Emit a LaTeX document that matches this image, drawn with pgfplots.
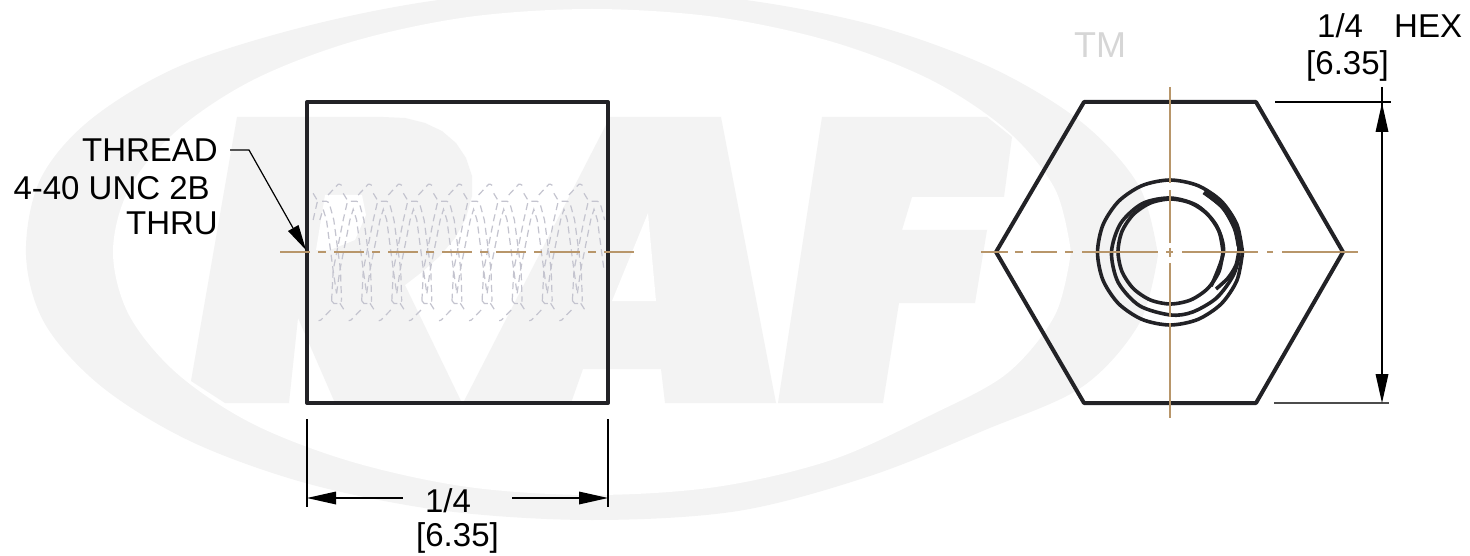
\documentclass[border=0pt]{standalone}
\usepackage{pgfplots}
\usepackage{pgfplotstable}
\usepackage{fontspec}
\setmainfont{Liberation Sans}
\pgfplotsset{compat=1.18}
\definecolor{wm}{HTML}{F3F3F3}
\definecolor{part}{HTML}{222226}
\definecolor{cline}{HTML}{B8966A}
\definecolor{hidden}{HTML}{C4C4CF}
\definecolor{tmgrey}{HTML}{D6D6D6}
\tikzset{lab/.style={font=\fontsize{33}{33}\selectfont, inner sep=0pt, text=black}}

% one turn of the thread, repeated along the bore
\pgfplotstableread{
x y
361.7 300.7
363.3 270
373.3 220
377.3 202.7
380 201.3
386.7 201.3
389.3 202.7
394 220
400.7 270
401.7 300.7
nan nan
361.7 300.7
364 303.5
369 303.5
371.7 300.7
nan nan
366.7 293.3
370 270
380 220
383.3 209.3
386.7 220
393.3 270
396.7 293.3
nan nan
373.3 193.3
378.7 202.3
nan nan
370 303.3
376 312.7
nan nan
388.3 195
398.3 184.3
400 184.3
403 186
nan nan
360.7 310
351 320
348.7 320.7
}\threadturn

\begin{document}
\begin{tikzpicture}
\path[use as bounding box] (0,0) rectangle (1470pt,556pt);
\begin{axis}[
	width=1470pt, height=556pt, scale only axis,
	xmin=0, xmax=1470, ymin=0, ymax=556,
	y dir=reverse,
	hide axis,
	unbounded coords=jump,
	cl/.style={draw=cline, line width=1.1pt},
	body/.style={part, line width=4pt, line join=round},
	bore/.style={part, line width=3.6pt, smooth},
	dim/.style={black, line width=1.2pt},
	head/.style={fill=black, draw=none},
]

% watermark logo
\addplot[fill=wm, draw=none, smooth, tension=0.55] coordinates {
	(1158,255)(1139,324)(1082,387)(985,430)(870,476)(738,511)(592,520)(446,511)(309,484)(192,442)
	(102,387)(45,324)(26,255)(40,180)(90,120)(180,66)(309,25.5)(446,-1)(592,-10)(738,-1)(875,25.5)
	(992,68)(1082,122.5)(1139,186)(1158,255)};
\addplot[fill=white, draw=none, smooth, tension=0.55] coordinates {
	(1071,252)(1055,315)(1007,373.5)(931,415)(831.5,460)(716,487)(592,495)(468,487)(352.5,462)(253,424)
	(177,373.5)(129,315)(113,252)(129,189)(177,130.5)(253,80)(352.5,41.6)(468,17)(592,9)(716,17)
	(831.5,41.6)(931,80)(1007,130.5)(1055,189)(1071,252)};
% R
\addplot[fill=wm, draw=none] coordinates {
	(237,117)(383,117)(405,118)(425,123)(442,131)(456,143)(466,158)(472,176)(472,196)(466,218)(455,238)
	(440,256)(422,272)(405,285)(462,403)
	(335,403)(298,318)(289,403)(225,403)(191,381)(237,117)};
\addplot[fill=white, draw=none] coordinates {
	(325,195)(362,195)(366,215)(355,240)(330,250)(316,250)(325,195)};
% A
\addplot[fill=wm, draw=none] coordinates {
	(610,117)(721,117)(776,403)(665,403)(661,369)(583,369)(571,403)(463,403)(610,117)};
\addplot[fill=white, draw=none] coordinates {(648,213)(612,301)(656,301)(648,213)};
% F
\addplot[fill=wm, draw=none] coordinates {
	(822,117)(987,117)(1012,137)(1004,197)(912,197)(902,230)(987,230)(975,303)(899,303)(883,403)(778,403)(822,117)};

% thread, hidden lines
\pgfplotsinvokeforeach{-2,...,7}{
	\addplot[hidden, line width=1.2pt, dash pattern=on 7pt off 4.5pt,
		restrict x to domain=310:605]
		table[x expr=\thisrow{x}+#1*30.1, y=y] {\threadturn};
}

% side view
\addplot[body] coordinates {(307,102)(608,102)(608,403)(307,403)(307,102)(608,102)};
\addplot[cl, dash pattern=on 30pt off 8pt on 8pt off 8pt] coordinates {(280,252)(634,252)};

% end view
\addplot[body] coordinates {(1084,102)(1256,102)(1343,252)(1256,403)(1084,403)(996,252)(1084,102)(1256,102)};
\addplot[bore] coordinates {
	(1242.5,252.5)(1237,280.2)(1221.3,303.8)(1197.7,319.5)(1170,325)(1142.3,319.5)(1118.7,303.8)(1103,280.2)
	(1097.5,252.5)(1103,224.8)(1118.7,201.2)(1142.3,185.5)(1170,180)(1197.7,185.5)(1221.3,201.2)(1237,224.8)(1242.5,252.5)};
\addplot[bore] coordinates {
	(1223,251.5)(1219,271.6)(1207.6,288.6)(1190.6,300)(1170.5,304)(1150.4,300)(1133.4,288.6)(1122,271.6)
	(1118,251.5)(1122,231.4)(1133.4,214.4)(1150.4,203)(1170.5,199)(1190.6,203)(1207.6,214.4)(1219,231.4)(1223,251.5)};
\addplot[bore] coordinates {
	(1204.8,192.7)(1223,208)(1234.9,228.6)(1239,252)(1233.5,274.9)(1216.5,298)(1192.4,312.1)(1170.5,315)
	(1139.5,305.7)(1118.1,282.3)(1111.5,252)(1120.7,223.3)(1142.5,203.5)(1170.5,198)(1197.3,205.7)(1216.4,225.5)
	(1223.5,252)(1211.1,286.1)};
\addplot[bore, line width=5pt] coordinates {(1204,192)(1223,207)(1235,228)(1239,246)};
\addplot[bore] coordinates {(1239,250)(1236,265)(1228,278)(1216,289)};
\addplot[cl] coordinates {
	(981,252)(1008,252)(1010,nan)(1015,252)(1023,252)(1025,nan)(1031,252)(1057,252)(1060,nan)
	(1065,252)(1073,252)(1075,nan)(1082,252)(1158,252)(1160,nan)(1166,252)(1173,252)(1175,nan)
	(1182,252)(1258,252)(1260,nan)(1267,252)(1273,252)(1275,nan)(1282,252)(1358,252)};
\addplot[cl] coordinates {
	(1170,87)(1170,183)(1170,nan)(1170,190)(1170,243)(1170,nan)(1170,248)(1170,257)(1170,nan)
	(1170,263)(1170,317)(1170,nan)(1170,323)(1170,418)};

% dimension, width of the side view
\addplot[dim] coordinates {(307,419)(307,507)};
\addplot[dim] coordinates {(608,419)(608,507)};
\addplot[dim] coordinates {(336,498)(403,498)};
\addplot[dim] coordinates {(512,498)(580,498)};
\addplot[head] coordinates {(307,498)(336,491.5)(336,504.5)(307,498)};
\addplot[head] coordinates {(608,498)(579,491.5)(579,504.5)(608,498)};
\node[lab, anchor=base] at (axis cs:448,512) {1/4};
\node[lab, anchor=base] at (axis cs:457.5,546) {[6.35]};

% dimension, hex
\addplot[dim] coordinates {(1275,102)(1391,102)};
\addplot[dim, black!70] coordinates {(1274,403)(1389,403)};
\addplot[dim] coordinates {(1382,87)(1382,374)};
\addplot[head] coordinates {(1382,103)(1375.5,132)(1388.5,132)(1382,103)};
\addplot[head] coordinates {(1382,403)(1375.5,374)(1388.5,374)(1382,403)};
\node[lab, anchor=base west] at (axis cs:1317,38) {1/4};
\node[lab, anchor=base west] at (axis cs:1394,38) {HEX};
\node[lab, anchor=base] at (axis cs:1347.5,75) {[6.35]};
\node[lab, anchor=base, text=tmgrey, font=\fontsize{36}{36}\selectfont] at (axis cs:1100,58) {TM};

% thread callout
\addplot[black, line width=1.2pt] coordinates {(230,150)(249,150)(293,228)};
\addplot[head] coordinates {(306,250)(288,231)(298.5,225)(306,250)};
\node[lab, anchor=base east] at (axis cs:218,162) {THREAD};
\node[lab, anchor=base east] at (axis cs:210,200) {4-40 UNC 2B};
\node[lab, anchor=base east] at (axis cs:218,235) {THRU};

\end{axis}
\end{tikzpicture}
\end{document}
